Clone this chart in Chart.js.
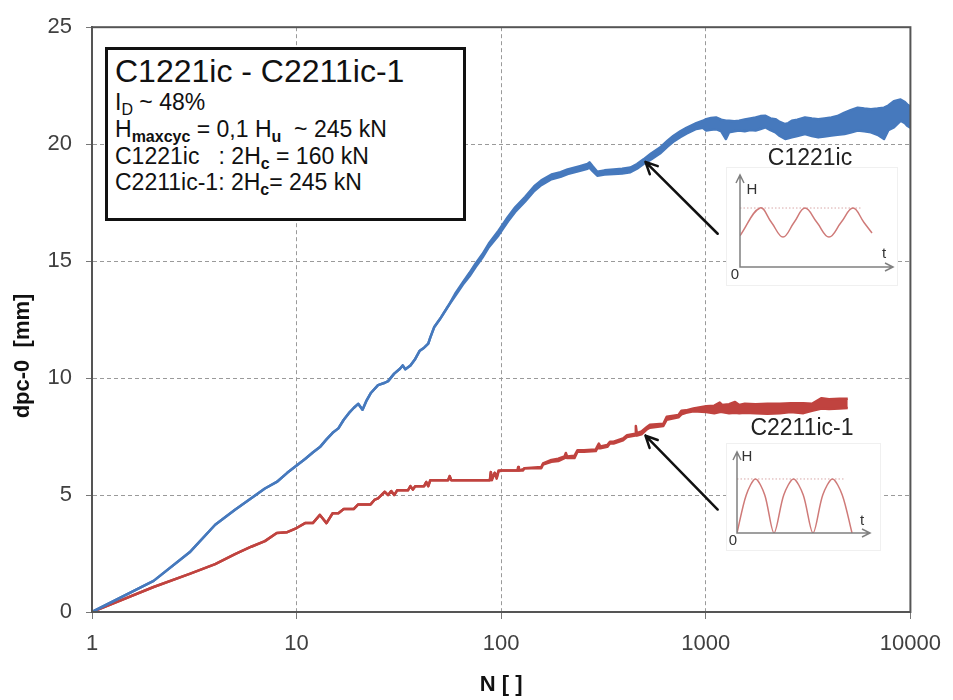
<!DOCTYPE html>
<html>
<head>
<meta charset="utf-8">
<title>dpc-0 vs N</title>
<script src="https://cdn.jsdelivr.net/npm/chart.js@4.4.1/dist/chart.umd.min.js"></script>
<style>
  body { margin: 0; background: #fff; }
  #wrap { position: relative; width: 953px; height: 700px; background: #fff; font-family: "Liberation Sans", Arial, sans-serif; color: #111; }
  #main { position: absolute; left: 0; top: 0; }
  .note { position: absolute; left: 105px; top: 47px; width: 361px; height: 174px; box-sizing: border-box; border: 3px solid #111; background: #fff; }
  .t { position: absolute; left: 115px; white-space: pre; line-height: 1; }
  .t .s { position: relative; top: 5px; font-size: 16px; font-weight: bold; }
  .t .r { position: relative; top: 5px; font-size: 16px; }
  .lbl { position: absolute; font-size: 23px; line-height: 1; color: #222; transform: translate(-50%, -50%); white-space: nowrap; }
  .inset { position: absolute; background: #fff; outline: 1px solid #f0f0f0; }
</style>
</head>
<body>
<div id="wrap">
  <canvas id="main" width="953" height="700"></canvas>

  <div class="note"></div>
  <div class="t" style="top:55px;font-size:32px">C1221ic - C2211ic-1</div>
  <div class="t" style="top:91px;font-size:23px">I<span class="r">D</span> ~ 48%</div>
  <div class="t" style="top:118px;font-size:23px">H<span class="s">maxcyc</span> = 0,1 H<span class="s">u</span>  ~ 245 kN</div>
  <div class="t" style="top:145px;font-size:23px">C1221ic   : 2H<span class="s">c</span> = 160 kN</div>
  <div class="t" style="top:171px;font-size:23px">C2211ic-1: 2H<span class="s">c</span>= 245 kN</div>

  <div class="lbl" style="left:810px;top:157px">C1221ic</div>
  <div class="lbl" style="left:802px;top:427px">C2211ic-1</div>

  <canvas id="inset1" class="inset" width="170" height="117" style="left:727px;top:168px"></canvas>
  <canvas id="inset2" class="inset" width="153" height="106" style="left:727px;top:444px"></canvas>
</div>

<script>
// ---- data ----
const xTicks = [1, 10, 100, 1000, 10000];

// C1221ic (blue): N, lower and upper edge of the measured band [mm]
const blueN = [
  1, 2, 3, 4, 5, 6, 7, 8, 9, 10,
  11, 12, 13, 14, 15, 16, 17, 18, 19, 20,
  21, 22, 23, 25, 27, 28, 30, 32, 33, 34,
  36, 38, 40, 42, 44, 45, 47, 50, 55, 60,
  65, 70, 75, 81, 87, 97, 108, 117, 131, 145,
  157, 176, 195, 211, 240, 264, 270, 280, 295, 320,
  355, 390, 428, 461, 496, 540, 597, 650, 693, 750,
  804, 898, 968, 1004, 1060, 1122, 1190, 1254, 1300, 1380,
  1455, 1550, 1650, 1751, 1850, 1958, 2070, 2188, 2300, 2444,
  2530, 2632, 2800, 3053, 3300, 3543, 3800, 4108, 4400, 4766,
  5100, 5525, 5950, 6410, 6900, 7431, 7800, 8302, 8950, 9400,
  9640, 10000
];
const blueLo = [
  0, 1.33, 2.55, 3.73, 4.37, 4.86, 5.28, 5.56, 5.95, 6.26,
  6.54, 6.82, 7.05, 7.38, 7.66, 7.85, 8.22, 8.5, 8.72, 8.9,
  8.65, 9.05, 9.35, 9.7, 9.8, 9.87, 10.19, 10.4, 10.54, 10.38,
  10.54, 10.82, 11.17, 11.3, 11.47, 11.73, 12.17, 12.5, 13.07, 13.55,
  14.0, 14.35, 14.75, 15.15, 15.6, 16.1, 16.7, 17.1, 17.55, 18.0,
  18.25, 18.5, 18.6, 18.72, 18.85, 18.95, 19.0, 18.85, 18.65, 18.7,
  18.72, 18.75, 18.8, 18.95, 19.15, 19.35, 19.6, 19.9, 20.1, 20.3,
  20.45, 20.65, 20.7, 20.58, 20.62, 20.64, 20.55, 20.22, 20.51, 20.55,
  20.58, 20.55, 20.6, 20.58, 20.65, 20.72, 20.6, 20.51, 20.35, 20.22,
  20.25, 20.29, 20.35, 20.43, 20.35, 20.29, 20.33, 20.37, 20.4, 20.43,
  20.5, 20.58, 20.55, 20.51, 20.4, 20.22, 20.6, 20.72, 21.0, 20.9,
  20.79, 20.7
];
const blueHi = [
  0, 1.33, 2.55, 3.73, 4.37, 4.86, 5.28, 5.56, 5.95, 6.26,
  6.54, 6.82, 7.05, 7.38, 7.66, 7.85, 8.22, 8.5, 8.72, 8.9,
  8.65, 9.05, 9.35, 9.7, 9.8, 9.87, 10.19, 10.4, 10.54, 10.38,
  10.54, 10.82, 11.17, 11.3, 11.47, 11.73, 12.17, 12.5, 13.07, 13.65,
  14.1, 14.5, 14.9, 15.3, 15.75, 16.3, 16.9, 17.3, 17.75, 18.2,
  18.45, 18.7, 18.8, 18.92, 19.05, 19.15, 19.22, 19.05, 18.82, 18.88,
  18.92, 18.95, 19.0, 19.15, 19.35, 19.6, 19.85, 20.15, 20.35, 20.55,
  20.7, 20.9, 21.0, 21.07, 21.12, 21.14, 21.05, 21.0, 21.0, 20.98,
  21.0, 21.05, 21.1, 21.14, 21.2, 21.21, 21.1, 21.07, 20.95, 20.86,
  20.9, 21.0, 21.05, 21.14, 21.1, 21.07, 21.1, 21.14, 21.2, 21.35,
  21.45, 21.56, 21.52, 21.49, 21.52, 21.56, 21.65, 21.84, 21.91, 21.8,
  21.7, 21.6
];

// C2211ic-1 (red)
const redN = [
  1, 2, 3, 4, 5, 6, 7, 8, 9, 10,
  11, 12, 13, 14, 15, 16, 17, 19, 20, 23,
  24, 25, 27, 28, 29, 30, 31, 35, 36, 37,
  38, 42, 43, 44, 45, 55, 56, 57, 88, 89,
  90, 93, 95, 97, 100, 120, 121, 122, 128, 130,
  157, 160, 176, 190, 204, 207, 210, 228, 236, 254,
  290, 295, 300, 305, 330, 340, 354, 394, 412, 452,
  455, 460, 485, 517, 533, 620, 644, 735, 760, 800,
  870, 1004, 1100, 1170, 1200, 1300, 1390, 1456, 1550, 1750,
  2000, 2300, 2600, 3000, 3300, 3680, 4000, 4500, 4940
];
const redLo = [
  0, 1.07, 1.63, 2.05, 2.47, 2.79, 3.03, 3.38, 3.41, 3.59,
  3.8, 3.8, 4.15, 3.8, 4.22, 4.22, 4.4, 4.4, 4.6, 4.6,
  4.79, 4.86, 5.14, 5.0, 5.17, 5.0, 5.2, 5.2, 5.38, 5.24,
  5.38, 5.38, 5.56, 5.38, 5.63, 5.63, 5.81, 5.63, 5.63, 5.98,
  5.63, 5.95, 5.7, 6.0, 6.05, 6.05, 6.05, 6.05, 6.05, 6.15,
  6.15, 6.3, 6.42, 6.45, 6.58, 6.6, 6.58, 6.58, 6.85, 6.85,
  6.88, 7.0, 7.0, 7.0, 7.06, 7.2, 7.2, 7.34, 7.48, 7.54,
  7.55, 7.54, 7.6, 7.82, 7.88, 7.95, 8.22, 8.32, 8.45, 8.52,
  8.58, 8.55, 8.5, 8.55, 8.55, 8.5, 8.52, 8.5, 8.52, 8.5,
  8.48, 8.5, 8.55, 8.5, 8.6, 8.7, 8.68, 8.7, 8.72
];
const redHi = [
  0, 1.07, 1.63, 2.05, 2.47, 2.79, 3.03, 3.38, 3.41, 3.59,
  3.8, 3.8, 4.15, 3.8, 4.22, 4.22, 4.4, 4.4, 4.6, 4.6,
  4.79, 4.86, 5.14, 5.0, 5.17, 5.0, 5.2, 5.2, 5.38, 5.24,
  5.38, 5.38, 5.56, 5.38, 5.63, 5.63, 5.81, 5.63, 5.63, 5.98,
  5.7, 5.95, 5.75, 6.05, 6.05, 6.05, 6.2, 6.05, 6.1, 6.15,
  6.2, 6.35, 6.5, 6.55, 6.65, 6.8, 6.65, 6.68, 6.92, 6.92,
  6.95, 7.08, 7.2, 7.08, 7.14, 7.28, 7.28, 7.42, 7.56, 7.62,
  7.95, 7.64, 7.72, 7.92, 8.0, 8.05, 8.35, 8.42, 8.6, 8.62,
  8.7, 8.8, 8.82, 8.95, 8.85, 8.88, 8.98, 8.85, 8.9, 8.88,
  8.9, 8.9, 8.92, 8.92, 8.9, 9.14, 9.1, 9.12, 9.12
];

// arrows from the sketches to the curves, in (N, mm)
const arrowFrom = [[1143, 16.17], [1143, 4.38]];
const arrowTo = [[507, 19.24], [507, 7.54]];

// load sketches: t (arbitrary), H (fraction of sketch height)
const sine1T = [0, 20, 31.5, 43, 54, 65, 77, 89, 101, 113, 124, 132];
const sine1H = [0.34, 0.641, 0.4835, 0.326, 0.4835, 0.641, 0.4835, 0.326, 0.4835, 0.641, 0.4835, 0.37];
const sine2T = [0, 9.25, 18.5, 27.75, 37, 46.75, 56.5, 66.25, 76, 85.75, 95.5, 105.25, 115];
const sine2H = [0, 0.47, 0.667, 0.47, 0, 0.47, 0.667, 0.47, 0, 0.47, 0.667, 0.47, 0];

const FONT = '"Liberation Sans", Arial, sans-serif';
const BLUE = '#4679bd';
const RED = '#c0433f';

const pts = (xs, ys) => xs.map((v, i) => ({ x: v, y: ys[i] }));
const band = (xs, ys, color, fill) => ({
  data: pts(xs, ys), borderColor: color, backgroundColor: color, borderWidth: 2.5,
  pointRadius: 0, fill, tension: 0, borderJoinStyle: 'round'
});

const frame = {
  id: 'frame',
  afterDatasetsDraw(chart) {
    const { ctx, chartArea: a, scales: { x, y } } = chart;
    ctx.save();
    ctx.strokeStyle = '#555'; ctx.lineWidth = 2;
    ctx.strokeRect(a.left, a.top, a.right - a.left, a.bottom - a.top);

    ctx.strokeStyle = '#111'; ctx.lineWidth = 2.5; ctx.lineCap = 'round';
    arrowFrom.forEach((f, i) => {
      const x0 = x.getPixelForValue(f[0]), y0 = y.getPixelForValue(f[1]);
      const x1 = x.getPixelForValue(arrowTo[i][0]), y1 = y.getPixelForValue(arrowTo[i][1]);
      const ang = Math.atan2(y1 - y0, x1 - x0);
      ctx.beginPath();
      ctx.moveTo(x0, y0); ctx.lineTo(x1, y1);
      [0.45, -0.45].forEach(d => { ctx.moveTo(x1, y1); ctx.lineTo(x1 - 13 * Math.cos(ang + d), y1 - 13 * Math.sin(ang + d)); });
      ctx.stroke();
    });

    // y axis title (sits below the axis centre in the original)
    ctx.translate(23, 356); ctx.rotate(-Math.PI / 2);
    ctx.font = 'bold 22px ' + FONT; ctx.fillStyle = '#111';
    ctx.textAlign = 'center'; ctx.textBaseline = 'middle';
    ctx.fillText('dpc-0  [mm]', 0, 0);
    ctx.restore();
  }
};

new Chart(document.getElementById('main'), {
  type: 'line',
  data: {
    datasets: [
      band(blueN, blueLo, BLUE, false),
      band(blueN, blueHi, BLUE, '-1'),
      band(redN, redLo, RED, false),
      band(redN, redHi, RED, '-1')
    ]
  },
  options: {
    responsive: false, animation: false, events: [],
    layout: { padding: { top: 18, right: 33, left: 0, bottom: 0 } },
    plugins: { legend: { display: false }, tooltip: { enabled: false } },
    scales: {
      x: {
        type: 'logarithmic', min: 1, max: 10000,
        afterBuildTicks: s => { s.ticks = xTicks.map(v => ({ value: v })); },
        afterFit: s => { s.height = 88; },
        ticks: { font: { size: 22, family: FONT }, color: '#404040', padding: 12, maxRotation: 0, autoSkip: false, callback: v => String(v) },
        grid: { color: '#9a9a9a', lineWidth: 1, tickLength: 7, tickColor: '#777', tickBorderDash: [] },
        border: { display: true, color: '#555', width: 2, dash: [4, 3] },
        title: { display: true, text: 'N [ ]', font: { size: 22, weight: 'bold', family: FONT }, color: '#111', padding: { top: 0, bottom: 2 } }
      },
      y: {
        min: 0, max: 25,
        afterFit: s => { s.width = 92; },
        ticks: { stepSize: 5, font: { size: 22, family: FONT }, color: '#404040', padding: 14 },
        grid: { color: '#9a9a9a', lineWidth: 1, tickLength: 6, tickColor: '#777', tickBorderDash: [] },
        border: { display: true, color: '#555', width: 2, dash: [4, 3] }
      }
    }
  },
  plugins: [frame]
});

// ---- the two load sketches ----
const sketch = {
  id: 'sketch',
  beforeDatasetsDraw(chart, args, o) {
    const { ctx, scales: { x, y } } = chart;
    ctx.save();
    ctx.strokeStyle = '#d8a8a8'; ctx.lineWidth = 1; ctx.setLineDash([1.5, 2]);
    ctx.beginPath();
    ctx.moveTo(x.getPixelForValue(0), y.getPixelForValue(o.peak));
    ctx.lineTo(x.getPixelForValue(o.peakEnd), y.getPixelForValue(o.peak));
    ctx.stroke();
    ctx.restore();
  },
  afterDatasetsDraw(chart, args, o) {
    const { ctx, scales: { x, y } } = chart;
    const x0 = x.getPixelForValue(0), y0 = y.getPixelForValue(0);
    const xe = x.getPixelForValue(x.max), yt = y.getPixelForValue(1);
    ctx.save();
    ctx.strokeStyle = '#808080'; ctx.lineWidth = 1.5;
    ctx.beginPath();
    ctx.moveTo(x0, yt); ctx.lineTo(x0, y0); ctx.lineTo(xe, y0);
    ctx.moveTo(x0 - 4, yt + 8); ctx.lineTo(x0, yt); ctx.lineTo(x0 + 4, yt + 8);
    ctx.moveTo(xe - 8, y0 - 4); ctx.lineTo(xe, y0); ctx.lineTo(xe - 8, y0 + 4);
    ctx.stroke();
    ctx.fillStyle = '#333'; ctx.font = '15px ' + FONT;
    ctx.textAlign = 'center'; ctx.textBaseline = 'middle';
    o.labels.forEach(l => ctx.fillText(l[0], l[1], l[2]));
    ctx.restore();
  }
};

function drawSketch(id, ts, hs, tMax, pad, peak, peakEnd, labels, tension) {
  new Chart(document.getElementById(id), {
    type: 'line',
    data: { datasets: [{ data: pts(ts, hs), borderColor: '#cf7a78', borderWidth: 1.5, pointRadius: 0, tension, fill: false }] },
    options: {
      responsive: false, animation: false, events: [],
      layout: { padding: pad },
      plugins: { legend: { display: false }, tooltip: { enabled: false }, sketch: { peak, peakEnd, labels } },
      scales: { x: { type: 'linear', min: 0, max: tMax, display: false }, y: { min: 0, max: 1, display: false } }
    },
    plugins: [sketch]
  });
}

drawSketch('inset1', sine1T, sine1H, 153, { left: 13, right: 4, top: 7, bottom: 18 }, 0.641, 122,
  [['H', 25, 22], ['t', 157, 86], ['0', 8, 107]], 0.4);
drawSketch('inset2', sine2T, sine2H, 133, { left: 10, right: 10, top: 8, bottom: 17 }, 0.667, 108,
  [['H', 20, 13], ['t', 135, 77], ['0', 6, 97]], 0.3);
</script>
</body>
</html>
